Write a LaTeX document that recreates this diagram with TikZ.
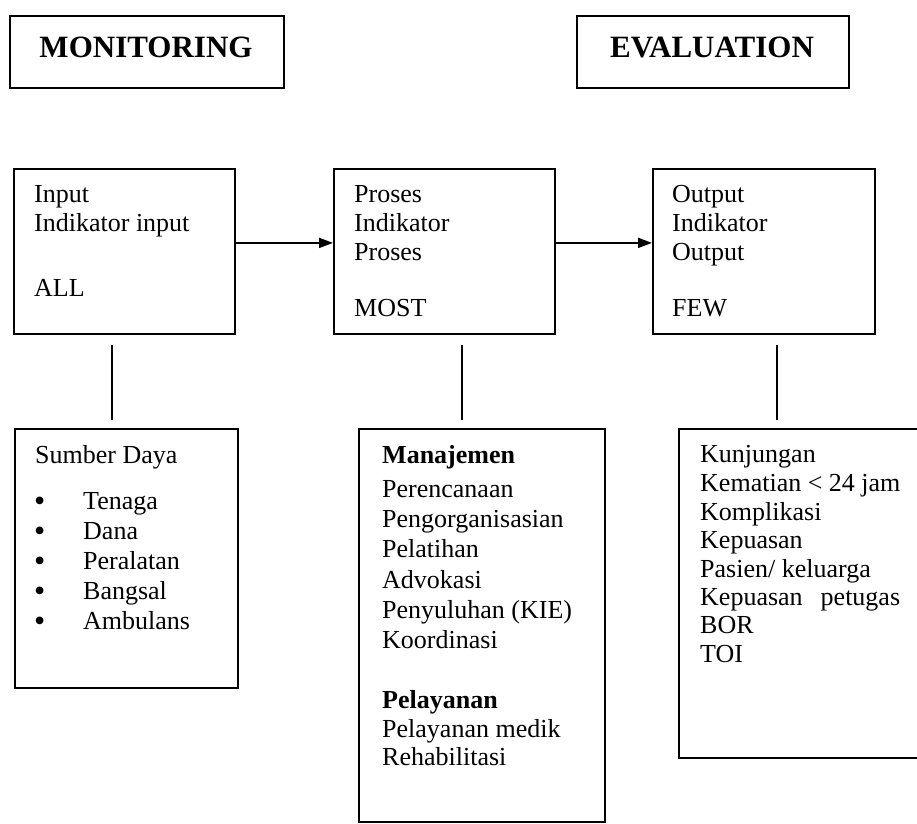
\documentclass[tikz,border=0pt]{standalone}
\usepackage{fontspec}
\setmainfont{Liberation Serif}
\usetikzlibrary{arrows.meta}
\begin{document}
\begin{tikzpicture}[x=1pt,y=-1pt,
  box/.style={draw, line width=1.8pt, inner sep=0pt, anchor=north west},
  ttl/.style={font=\fontsize{31}{31}\selectfont\bfseries, anchor=base, inner sep=0pt},
  txt/.style={font=\fontsize{26}{26}\selectfont, anchor=base west, inner sep=0pt},
  btxt/.style={font=\fontsize{26}{26}\selectfont\bfseries, anchor=base west, inner sep=0pt},
  bul/.style={font=\fontsize{32}{32}\selectfont, anchor=base west, inner sep=0pt},
  conn/.style={line width=1.8pt},
  arr/.style={line width=1.8pt, -{Triangle[length=14pt,width=10pt]}},
]
\useasboundingbox[fill=white] (0,0) rectangle (917,823);

% title boxes
\node[box, minimum width=274pt, minimum height=72pt] (mon) at (9,15) {};
\node[box, minimum width=272pt, minimum height=72pt] (eva) at (576,15) {};
\node[ttl] (monT) at (146,57) {MONITORING};
\node[ttl] (evaT) at (712,57) {EVALUATION};

% middle boxes
\node[box, minimum width=221pt, minimum height=165pt] (input) at (13,168) {};
\node[box, minimum width=221pt, minimum height=165pt] (proses) at (333,168) {};
\node[box, minimum width=222pt, minimum height=165pt] (output) at (652,168) {};

\node[txt] (i1) at (34,202) {Input};
\node[txt] (i2) at (34,231) {Indikator input};
\node[txt] (i3) at (34,296) {ALL};

\node[txt] (p1) at (354,202) {Proses};
\node[txt] (p2) at (354,231) {Indikator};
\node[txt] (p3) at (354,260) {Proses};
\node[txt] (p4) at (354,316) {MOST};

\node[txt] (o1) at (672,202) {Output};
\node[txt] (o2) at (672,231) {Indikator};
\node[txt] (o3) at (672,260) {Output};
\node[txt] (o4) at (672,316) {FEW};

\draw[arr] ([yshift=8.5pt]input.east) -- ([yshift=8.5pt]proses.west);
\draw[arr] ([yshift=8.5pt]proses.east) -- ([yshift=8.5pt]output.west);

% vertical connectors
\coordinate (v1a) at (112,345); \coordinate (v1b) at (112,420);
\coordinate (v2a) at (462,345); \coordinate (v2b) at (462,420);
\coordinate (v3a) at (777,345); \coordinate (v3b) at (777,420);
\draw[conn] (v1a) -- (v1b);
\draw[conn] (v2a) -- (v2b);
\draw[conn] (v3a) -- (v3b);

% lower boxes
\node[box, minimum width=223pt, minimum height=259pt] (sumber) at (14,428) {};
\node[box, minimum width=246pt, minimum height=393pt] (manaj) at (358,428) {};
\node[box, minimum width=260pt, minimum height=329pt] (kunj) at (678,428) {};

\node[txt] (s0) at (35,463) {Sumber Daya};
\foreach \t [count=\k] in {Tenaga,Dana,Peralatan,Bangsal,Ambulans}{
  \node[bul] (b\k) at (34,{481+30*\k}) {\textbullet};
  \node[txt] (s\k) at (83,{479+30*\k}) {\t};
}

\node[btxt] (m0) at (382,463) {Manajemen};
\node[txt] (m1) at (382,497) {Perencanaan};
\node[txt] (m2) at (382,527) {Pengorganisasian};
\node[txt] (m3) at (382,557) {Pelatihan};
\node[txt] (m4) at (382,588) {Advokasi};
\node[txt] (m5) at (382,618) {Penyuluhan (KIE)};
\node[txt] (m6) at (382,648) {Koordinasi};
\node[btxt] (m7) at (382,708) {Pelayanan};
\node[txt] (m8) at (382,737) {Pelayanan medik};
\node[txt] (m9) at (382,765) {Rehabilitasi};

\node[txt] (k1) at (700,462) {Kunjungan};
\node[txt] (k2) at (700,491) {Kematian < 24 jam};
\node[txt] (k3) at (700,520) {Komplikasi};
\node[txt] (k4) at (700,548) {Kepuasan};
\node[txt] (k5) at (700,577) {Pasien/ keluarga};
\node[txt] (k6) at (700,605) {Kepuasan\hspace{18pt}petugas};
\node[txt] (k7) at (700,633) {BOR};
\node[txt] (k8) at (700,662) {TOI};
\end{tikzpicture}
\end{document}
